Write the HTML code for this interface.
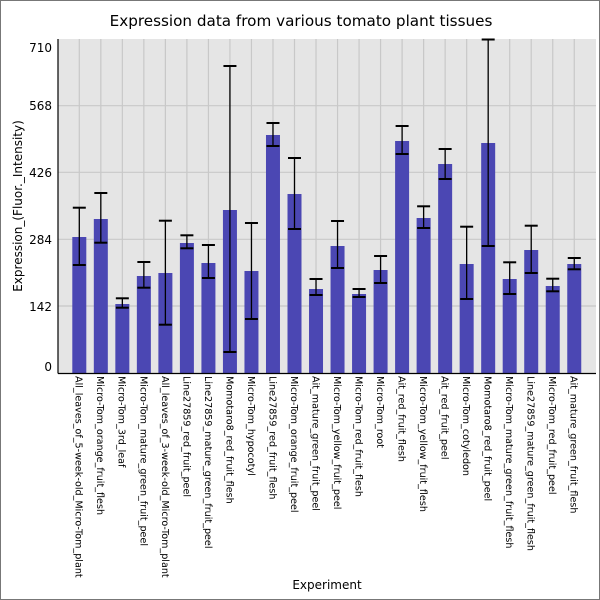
<!DOCTYPE html>
<html><head><meta charset="utf-8"><style>
html,body{margin:0;padding:0;background:#fff}
svg{display:block}
text{font-family:"DejaVu Sans","Liberation Sans",sans-serif;fill:#000}
</style></head><body>
<svg width="600" height="600" viewBox="0 0 600 600" xmlns="http://www.w3.org/2000/svg">
<rect x="0.5" y="0.5" width="599" height="599" fill="#fff" stroke="#777" stroke-width="1"/>
<text x="301" y="26" font-size="15.2" text-anchor="middle">Expression data from various tomato plant tissues</text>
<rect x="58" y="39" width="538" height="334" fill="#e5e5e5"/>
<g id="grid" stroke="#c8c8c8" stroke-width="1.2"></g>
<g id="bars"></g>
<line x1="58" y1="39" x2="58" y2="373.5" stroke="#000" stroke-width="1.2"/>
<line x1="58" y1="373.5" x2="596" y2="373.5" stroke="#000" stroke-width="1.2"/>
<g font-size="12" text-anchor="end">
<text x="52" y="52">710</text>
<text x="52" y="110">568</text>
<text x="52" y="177">426</text>
<text x="52" y="244">284</text>
<text x="52" y="311">142</text>
<text x="52" y="371">0</text>
</g>
<text transform="translate(22,206) rotate(-90)" font-size="12" text-anchor="middle">Expression_(Fluor._Intensity)</text>
<text x="327" y="589" font-size="12" text-anchor="middle">Experiment</text>
<g id="labels" font-size="9.6"></g>
</svg>
<script>
var d=[
["All_leaves_of_5-week-old_Micro-Tom_plant",237,207.7,265],
["Micro-Tom_orange_fruit_flesh",219,193,242.7],
["Micro-Tom_3rd_leaf",304,298.3,307.7],
["Micro-Tom_mature_green_fruit_peel",276,262,287.7],
["All_leaves_of_3-week-old_Micro-Tom_plant",273,220.7,324.7],
["Line27859_red_fruit_peel",243,235.3,248.3],
["Line27859_mature_green_fruit_peel",263,245,278],
["Momotaro8_red_fruit_flesh",210,66,352],
["Micro-Tom_hypocotyl",271,223,319],
["Line27859_red_fruit_flesh",135,123,146],
["Micro-Tom_orange_fruit_peel",194,158,229],
["Ait_mature_green_fruit_peel",289,279,295],
["Micro-Tom_yellow_fruit_peel",246,221,268],
["Micro-Tom_red_fruit_flesh",294,289,297],
["Micro-Tom_root",270,256,283],
["Ait_red_fruit_flesh",141,126,154],
["Micro-Tom_yellow_fruit_flesh",218,206.3,228],
["Ait_red_fruit_peel",164,149,179],
["Micro-Tom_cotyledon",264,226.7,299],
["Momotaro8_red_fruit_peel",143,39.5,246],
["Micro-Tom_mature_green_fruit_flesh",279,262.3,294],
["Line27859_mature_green_fruit_flesh",250,225.7,273],
["Micro-Tom_red_fruit_peel",286,278.7,291.3],
["Ait_mature_green_fruit_flesh",264,258,269.3]];
var ns="http://www.w3.org/2000/svg";
function el(p,t,a,txt){var e=document.createElementNS(ns,t);for(var k in a)e.setAttribute(k,a[k]);if(txt)e.textContent=txt;document.getElementById(p).appendChild(e);}
[105.7,172.3,239.3,306].forEach(function(y){el("grid","line",{x1:58,x2:596,y1:y,y2:y});});
d.forEach(function(r,i){var cx=79.3+i*21.52;
el("grid","line",{x1:cx,x2:cx,y1:39,y2:373});
el("bars","rect",{x:cx-7,y:r[1],width:14,height:373-r[1],fill:"#4b47b3"});
el("bars","line",{x1:cx,x2:cx,y1:r[2],y2:r[3],stroke:"#000","stroke-width":1.3});
el("bars","line",{x1:cx-6.5,x2:cx+6.5,y1:r[2],y2:r[2],stroke:"#000","stroke-width":2});
el("bars","line",{x1:cx-6.5,x2:cx+6.5,y1:r[3],y2:r[3],stroke:"#000","stroke-width":2});
el("labels","text",{transform:"translate("+(cx-3.6)+",376) rotate(90)"},r[0]);
});
</script>
</body></html>
